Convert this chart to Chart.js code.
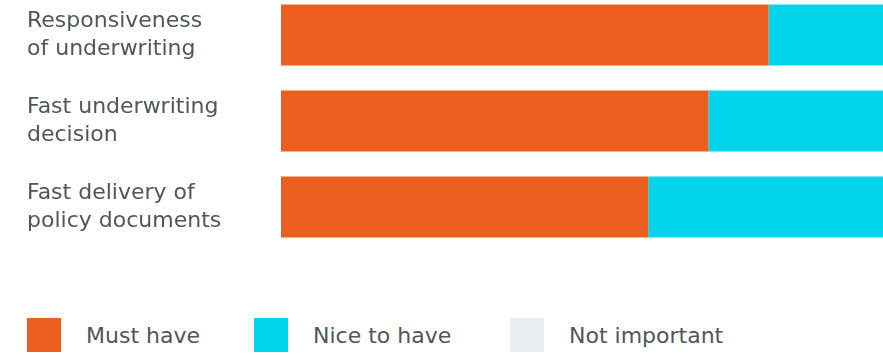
<!DOCTYPE html>
<html>
<head>
<meta charset="utf-8">
<script src="https://cdn.jsdelivr.net/npm/chart.js@4.4.1/dist/chart.umd.min.js"></script>
<style>
  html, body { margin: 0; padding: 0; background: #fff; }
  body { width: 883px; height: 355px; position: relative; overflow: hidden; font-family: 'DejaVu Sans', sans-serif; }
  #wrap { position: absolute; left: 0; top: -36px; width: 883px; height: 314px; }
  #legenda { position: absolute; left: 0; top: 318px; width: 883px; height: 34px; }
  .item { position: absolute; top: 0; display: flex; align-items: center; height: 34px; }
  .caixa { width: 34px; height: 34px; margin-right: 25px; }
  .texto { font-size: 22px; color: #50565b; white-space: nowrap; }
</style>
</head>
<body>
<div id="wrap"><canvas id="grafico"></canvas></div>
<div id="legenda"></div>
<script>
const categorias = [
    ['Responsiveness', 'of underwriting'],
    ['Fast underwriting', 'decision'],
    ['Fast delivery of', 'policy documents']
];
const mustHave = [81, 71, 61];
const niceToHave = [19, 29, 39];
const notImportant = [0, 0, 0];
const nomesSeries = ['Must have', 'Nice to have', 'Not important'];
const cores = ['#ec5f1f', '#02d5eb', '#ebeef0'];
const posLegenda = [27, 254, 510];

function criarGrafico() {
    const ctx = document.getElementById('grafico');
    const series = [mustHave, niceToHave, notImportant];

    const chart = new Chart(ctx, {
        type: 'bar',
        data: {
            labels: categorias,
            datasets: series.map((valores, i) => ({
                label: nomesSeries[i],
                data: valores,
                backgroundColor: cores[i],
                borderWidth: 0,
                barPercentage: 0.71,
                categoryPercentage: 1
            }))
        },
        options: {
            indexAxis: 'y',
            responsive: true,
            maintainAspectRatio: false,
            animation: false,
            layout: { padding: { left: 27, right: 0, top: 0, bottom: 0 } },
            plugins: {
                legend: { display: false },
                tooltip: { enabled: false }
            },
            scales: {
                x: {
                    stacked: true,
                    min: 0,
                    max: 100,
                    display: false
                },
                y: {
                    stacked: true,
                    grid: { display: false },
                    border: { display: false },
                    afterFit: function (axis) { axis.width = 254; },
                    ticks: {
                        crossAlign: 'far',
                        padding: 0,
                        color: '#50565b',
                        font: { family: 'DejaVu Sans', size: 22, lineHeight: 1.27 }
                    }
                }
            }
        }
    });

    // legenda em HTML a partir dos datasets
    const legenda = document.getElementById('legenda');
    chart.data.datasets.forEach((ds, i) => {
        const item = document.createElement('div');
        item.className = 'item';
        item.style.left = posLegenda[i] + 'px';
        item.innerHTML = '<div class="caixa" style="background:' + ds.backgroundColor + '"></div>' +
            '<span class="texto">' + ds.label + '</span>';
        legenda.appendChild(item);
    });
}

window.onload = function () {
    criarGrafico();
};
</script>
</body>
</html>
